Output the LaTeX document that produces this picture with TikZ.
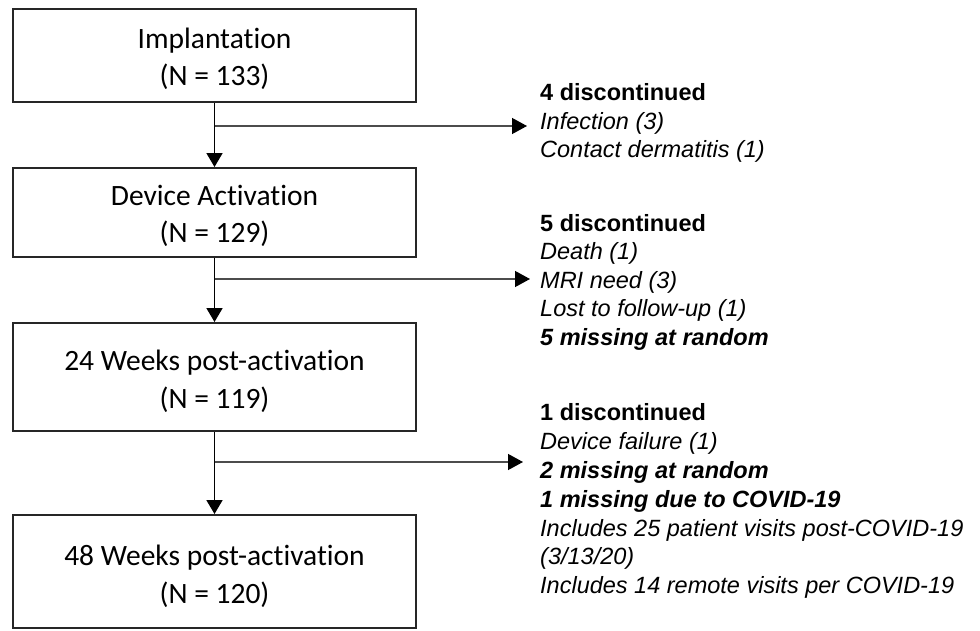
\documentclass[tikz,border=0pt]{standalone}
\usepackage{fontspec}
\setmainfont{Carlito}[Ligatures={NoCommon}]
\newfontfamily\arialf{Liberation Sans}
\usetikzlibrary{arrows.meta}
\begin{document}
\begin{tikzpicture}[x=1pt,y=-1pt,
  stagebox/.style={draw=black!85, line width=2pt, minimum width=403pt, inner sep=0pt},
  stagelabel/.style={align=center, font=\fontsize{29.5}{37.5}\selectfont, inner sep=0pt},
  mainarrow/.style={line width=1.8pt, -{Triangle[length=14pt,width=16pt]}},
  sidearrow/.style={draw=black!70, line width=1.3pt, -{Triangle[length=15pt,width=16pt,fill=black,color=black]}},
  sidetext/.style={anchor=base west, inner sep=0pt, font=\arialf\fontsize{23.5}{28}\selectfont\itshape},
  sidehead/.style={anchor=base west, inner sep=0pt, font=\arialf\fontsize{23.5}{28}\selectfont\bfseries},
  sidekey/.style={sidetext, font=\arialf\fontsize{23.5}{28}\selectfont\bfseries\itshape}
]
\useasboundingbox (0,0) rectangle (980,630);

\node[stagebox, minimum height=93pt] (b1) at (214.5,55.5) {};
\node[stagebox, minimum height=89pt] (b2) at (214.5,212.5) {};
\node[stagebox, minimum height=108pt] (b3) at (214.5,377) {};
\node[stagebox, minimum height=113pt] (b4) at (214.5,571.5) {};

\node[stagelabel] (l1) at ([yshift=-3.5pt]b1.center) {Implantation\\(N = 133)};
\node[stagelabel] (l2) at ([yshift=-3.5pt]b2.center) {Device Activation\\(N = 129)};
\node[stagelabel] (l3) at ([yshift=-4.5pt]b3.center) {24 Weeks post-activation\\(N = 119)};
\node[stagelabel] (l4) at ([yshift=-5pt]b4.center) {48 Weeks post-activation\\(N = 120)};

\draw[mainarrow] (b1) -- (b2);
\draw[mainarrow] (b2) -- (b3);
\draw[mainarrow] (b3) -- (b4);

\coordinate (s1) at (214.5,126);
\coordinate (t1) at (527,126);
\coordinate (s2) at (214.5,279);
\coordinate (t2) at (530,279);
\coordinate (s3) at (214.5,462);
\coordinate (t3) at (523,462);
\draw[sidearrow] (s1) -- (t1);
\draw[sidearrow] (s2) -- (t2);
\draw[sidearrow] (s3) -- (t3);

% block 1
\node[sidehead] (a1) at (540,100) {4 discontinued};
\node[sidetext] (a2) at (540,129) {Infection (3)};
\node[sidetext] (a3) at (540,157) {Contact dermatitis (1)};

% block 2
\node[sidehead] (c1) at (540,231) {5 discontinued};
\node[sidetext] (c2) at (540,259.5) {Death (1)};
\node[sidetext] (c3) at (540,288) {MRI need (3)};
\node[sidetext] (c4) at (540,316.5) {Lost to follow-up (1)};
\node[sidekey] (c5) at (540,345) {5 missing at random};

% block 3
\node[sidehead] (d1) at (540,420) {1 discontinued};
\node[sidetext] (d2) at (540,449) {Device failure (1)};
\node[sidekey] (d3) at (540,478) {2 missing at random};
\node[sidekey] (d4) at (540,507) {1 missing due to COVID-19};
\node[sidetext] (d5) at (540,536) {Includes 25 patient visits post-COVID-19};
\node[sidetext] (d6) at (540,564.5) {(3/13/20)};
\node[sidetext] (d7) at (540,593) {Includes 14 remote visits per COVID-19};
\end{tikzpicture}
\end{document}
